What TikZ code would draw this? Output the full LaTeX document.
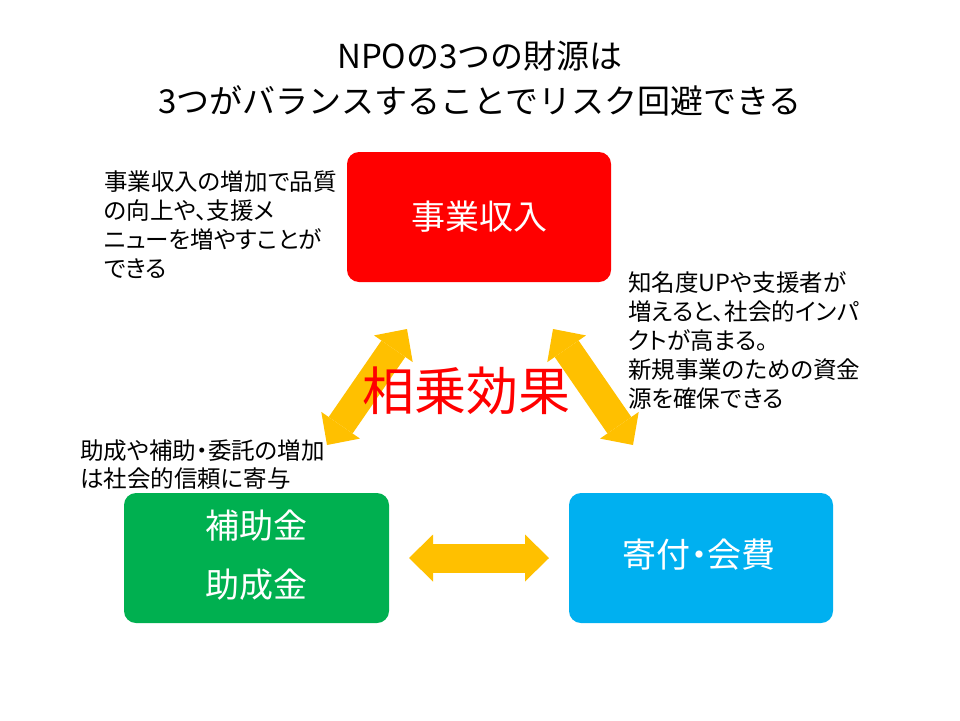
\documentclass[tikz,border=0pt]{standalone}
\usepackage{fontspec}
\setmainfont{Noto Sans CJK JP}
\newfontfamily\pfont{Noto Sans CJK JP}[RawFeature=+palt]
\usetikzlibrary{arrows.meta}
\definecolor{boxred}{HTML}{FF0000}
\definecolor{boxgreen}{HTML}{00B050}
\definecolor{boxblue}{HTML}{00B0F0}
\definecolor{arrowgold}{HTML}{FFC000}
\begin{document}
\begin{tikzpicture}[x=1pt,y=-1pt,
  srcbox/.style={rounded corners=12pt, minimum width=264pt, minimum height=130pt,
    inner sep=0pt},
  boxtext/.style={text=white, font=\pfont\fontsize{34}{59}\selectfont, inner sep=0pt, align=center},
  note/.style={align=left, anchor=north west, inner sep=0pt,
    font=\pfont\fontsize{23.5}{29}\selectfont},
  bigarrow/.style={arrowgold, line width=29pt,
    {Triangle[length=24pt,width=47pt,line width=0pt]}-{Triangle[length=24pt,width=47pt,line width=0pt]}}
]
\useasboundingbox (0,0) rectangle (960,720);
\fill[white] (0,0) rectangle (960,720);

\node[font=\fontsize{33}{45}\selectfont, align=center] (title) at (480,78)
  {NPOの3つの財源は\\3つがバランスすることでリスク回避できる};

\node[srcbox, fill=boxred] (jigyo) at (479,217) {};
\node[boxtext] (jigyotext) at (479,217) {事業収入};
\node[srcbox, fill=boxgreen, minimum width=265pt] (hojo) at (256.5,558) {};
\node[boxtext] (hojotext) at (256.5,555) {補助金\\助成金};
\node[srcbox, fill=boxblue] (kifu) at (701,558) {};
\node[boxtext] (kifutext) at (699,555) {寄付・会費};

\coordinate (ha) at (409,558);
\coordinate (hb) at (549,558);
\coordinate (la) at (327,445);
\coordinate (lb) at (407,329);
\coordinate (ra) at (553,329);
\coordinate (rb) at (633,445);

\draw[bigarrow] (ha) -- (hb);
\draw[bigarrow] (la) -- (lb);
\draw[bigarrow] (ra) -- (rb);

\node[text=boxred, font=\fontsize{52}{56}\selectfont, inner sep=0pt] (sojo) at (466,391) {相乗効果};

\node[note] (n1) at (104,171) {事業収入の増加で品質\\の向上や、支援メ\\ニューを増やすことが\\できる};
\node[note] (n2) at (628,271) {知名度UPや支援者が\\増えると、社会的インパ\\クトが高まる。\\新規事業のための資金\\源を確保できる};
\node[note, font=\pfont\fontsize{23.5}{28}\selectfont] (n3) at (80,440) {助成や補助・委託の増加\\は社会的信頼に寄与};
\end{tikzpicture}
\end{document}
